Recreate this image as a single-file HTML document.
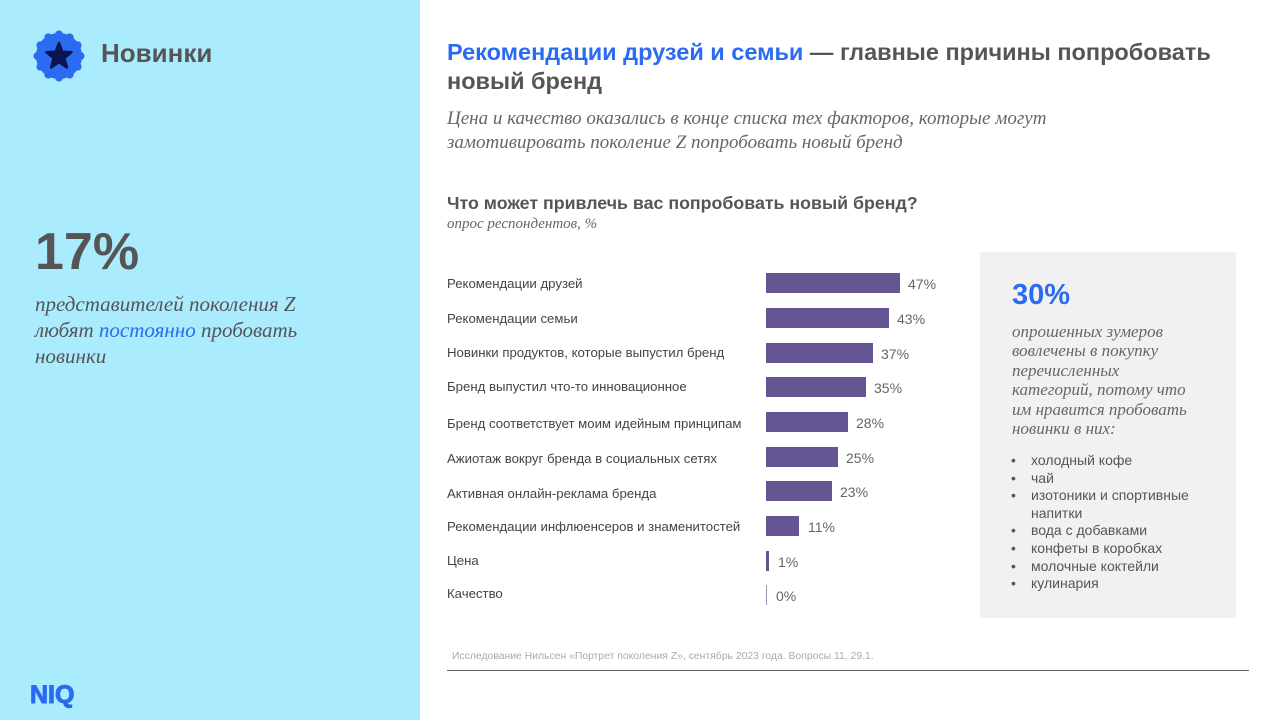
<!DOCTYPE html>
<html><head><meta charset="utf-8"><style>
*{margin:0;padding:0;box-sizing:border-box}
body{width:1280px;height:720px;position:relative;overflow:hidden;background:#fff;font-family:"Liberation Sans",sans-serif;color:#555}
.abs{position:absolute}
.left{left:0;top:0;width:420px;height:720px;background:#aaebfe}
.serif{font-family:"Liberation Serif",serif;font-style:italic}
.lab{position:absolute;left:447px;font-size:13.2px;color:#444;white-space:nowrap}
.bar{position:absolute;left:766px;height:20px;background:#665593}
.val{position:absolute;font-size:14px;color:#666}
ul{list-style:none}
li{position:relative;padding-left:20px;font-size:14px;color:#555;line-height:17.6px}
li:before{content:"•";position:absolute;left:0}
</style></head><body>
<div class="abs left"></div>
<svg class="abs" style="left:33px;top:30px" width="52" height="52" viewBox="0 0 52 52">
<g fill="#2a6bf2"><circle cx="26" cy="26" r="23"/>
<circle cx="26" cy="4.5" r="4"/><circle cx="36.7" cy="7.4" r="4"/><circle cx="44.6" cy="15.3" r="4"/><circle cx="47.5" cy="26" r="4"/><circle cx="44.6" cy="36.7" r="4"/><circle cx="36.7" cy="44.6" r="4"/><circle cx="26" cy="47.5" r="4"/><circle cx="15.3" cy="44.6" r="4"/><circle cx="7.4" cy="36.7" r="4"/><circle cx="4.5" cy="26" r="4"/><circle cx="7.4" cy="15.3" r="4"/><circle cx="15.3" cy="7.4" r="4"/></g>
<polygon points="26,13 29.3,21.8 38.5,22.2 31.3,28.2 33.9,37.5 26,32.2 18.1,37.5 20.7,28.2 13.5,22.2 22.7,21.8" fill="#0a1450" stroke="#0a1450" stroke-width="2.5" stroke-linejoin="round"/>
</svg>
<div class="abs" style="left:101px;top:38px;font-size:26px;font-weight:bold;color:#555">Новинки</div>
<div class="abs" style="left:35px;top:222px;font-size:52px;font-weight:bold;color:#555">17%</div>
<div class="abs serif" style="left:35px;top:291px;font-size:21px;line-height:26px;color:#555;width:320px">представителей поколения Z любят <span style="color:#2a6bf2">постоянно</span> пробовать новинки</div>
<div class="abs" style="left:30px;top:681px;font-size:25px;font-weight:900;color:#2a6bf2;-webkit-text-stroke:1px #2a6bf2">NIQ</div>

<div class="abs" style="left:447px;top:38px;font-size:23.5px;font-weight:bold;line-height:29px;color:#555;width:800px"><span style="color:#2a6bf2">Рекомендации друзей и семьи</span> — главные причины попробовать новый бренд</div>
<div class="abs serif" style="left:447px;top:107px;font-size:19px;line-height:24px;color:#666;width:720px">Цена и качество оказались в конце списка тех факторов, которые могут замотивировать поколение Z попробовать новый бренд</div>
<div class="abs" style="left:447px;top:193px;font-size:17.8px;font-weight:bold;color:#555">Что может привлечь вас попробовать новый бренд?</div>
<div class="abs serif" style="left:447px;top:216px;font-size:15px;color:#666">опрос респондентов, %</div>

<div class="lab" style="top:276px">Рекомендации друзей</div>
<div class="lab" style="top:311px">Рекомендации семьи</div>
<div class="lab" style="top:345px">Новинки продуктов, которые выпустил бренд</div>
<div class="lab" style="top:379px">Бренд выпустил что-то инновационное</div>
<div class="lab" style="top:416px">Бренд соответствует моим идейным принципам</div>
<div class="lab" style="top:451px">Ажиотаж вокруг бренда в социальных сетях</div>
<div class="lab" style="top:486px">Активная онлайн-реклама бренда</div>
<div class="lab" style="top:519px">Рекомендации инфлюенсеров и знаменитостей</div>
<div class="lab" style="top:553px">Цена</div>
<div class="lab" style="top:586px">Качество</div>

<div class="bar" style="top:273px;width:134px"></div><div class="val" style="left:908px;top:276px">47%</div>
<div class="bar" style="top:308px;width:123px"></div><div class="val" style="left:897px;top:311px">43%</div>
<div class="bar" style="top:343px;width:107px"></div><div class="val" style="left:881px;top:346px">37%</div>
<div class="bar" style="top:377px;width:100px"></div><div class="val" style="left:874px;top:380px">35%</div>
<div class="bar" style="top:412px;width:82px"></div><div class="val" style="left:856px;top:415px">28%</div>
<div class="bar" style="top:447px;width:72px"></div><div class="val" style="left:846px;top:450px">25%</div>
<div class="bar" style="top:481px;width:66px"></div><div class="val" style="left:840px;top:484px">23%</div>
<div class="bar" style="top:516px;width:33px"></div><div class="val" style="left:808px;top:519px">11%</div>
<div class="bar" style="top:551px;width:3px"></div><div class="val" style="left:778px;top:554px">1%</div>
<div class="bar" style="top:585px;width:1px;background:#9c90bb"></div><div class="val" style="left:776px;top:588px">0%</div>

<div class="abs" style="left:980px;top:252px;width:256px;height:366px;background:#f1f1f1"></div>
<div class="abs" style="left:1012px;top:279px;font-size:29px;font-weight:bold;color:#2a6bf2">30%</div>
<div class="abs serif" style="left:1012px;top:322px;font-size:17px;line-height:19.4px;color:#666;width:192px">опрошенных зумеров вовлечены в покупку перечисленных категорий, потому что им нравится пробовать новинки в них:</div>
<ul class="abs" style="left:1011px;top:452px;width:215px">
<li>холодный кофе</li><li>чай</li><li>изотоники и спортивные напитки</li><li>вода с добавками</li><li>конфеты в коробках</li><li>молочные коктейли</li><li>кулинария</li></ul>

<div class="abs" style="left:452px;top:651px;font-size:10.4px;color:#aaa">Исследование Нильсен «Портрет поколения Z», сентябрь 2023 года. Вопросы 11, 29.1.</div>
<div class="abs" style="left:447px;top:670px;width:802px;height:1px;background:#666"></div>
</body></html>
